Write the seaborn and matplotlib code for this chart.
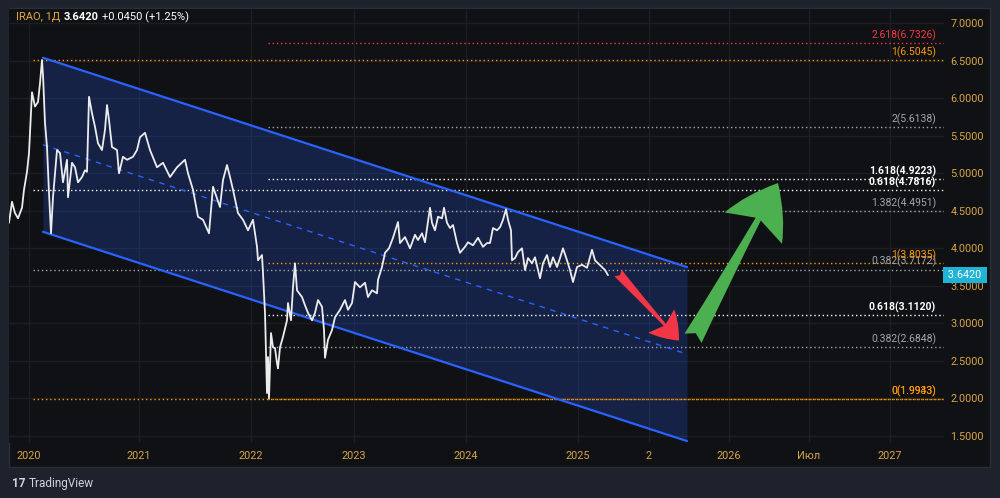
import numpy as np
import pandas as pd
import seaborn as sns
import matplotlib.pyplot as plt
from matplotlib.patches import Rectangle

# time axis is the chart's own bar-time index (2020 = 0)
TICK_T = [0, 110, 222, 325, 437, 549, 620, 700, 780, 861]
TICK_LABELS = ["2020", "2021", "2022", "2023", "2024", "2025", "2", "2026", "Июл", "2027"]

PRICE_T = [-20, -17, -14, -11, -7, -5, -2, 0, 3, 6, 9, 11, 13, 14, 16, 18, 20, 22, 24, 28,
           31, 34, 38, 39, 43, 46, 49, 53, 56, 58, 60, 63, 66, 69, 73, 76, 78, 80, 83, 88,
           90, 94, 98, 104, 108, 111, 116, 121, 128, 134, 141, 148, 156, 159, 164, 169, 174, 180, 184, 191,
           194, 198, 201, 204, 209, 214, 219, 224, 228, 229, 233, 234, 236, 238, 239, 240, 242, 244, 246, 248,
           249, 251, 254, 258, 259, 262, 264, 266, 268, 273, 276, 279, 283, 286, 289, 293, 295, 296, 299, 303,
           306, 311, 316, 319, 323, 326, 331, 336, 339, 343, 348, 349, 353, 356, 360, 364, 369, 371, 376, 381,
           386, 389, 393, 396, 401, 403, 406, 409, 413, 415, 418, 421, 424, 428, 431, 436, 439, 444, 449, 454,
           458, 461, 464, 468, 471, 474, 477, 479, 482, 483, 486, 489, 493, 496, 499, 503, 506, 511, 514, 518,
           521, 524, 528, 531, 534, 538, 541, 544, 548, 553, 558, 563, 566, 569, 573, 576, 579]
PRICE_V = [4.34, 4.62, 4.47, 4.40, 4.54, 4.78, 5.02, 5.27, 6.08, 5.89, 5.95, 6.20, 6.51, 6.31, 5.67, 5.35, 4.74, 4.20, 4.68, 5.31,
           5.27, 4.88, 5.18, 4.68, 5.14, 5.08, 4.88, 4.95, 5.04, 5.02, 6.02, 5.80, 5.62, 5.40, 5.31, 5.58, 5.91, 5.71, 5.35, 5.31,
           5.00, 5.22, 5.18, 5.22, 5.31, 5.48, 5.54, 5.31, 5.08, 5.14, 4.95, 5.08, 5.18, 5.00, 4.78, 4.42, 4.38, 4.20, 4.82, 4.55,
           4.91, 5.11, 4.95, 4.78, 4.47, 4.38, 4.24, 4.38, 4.02, 3.84, 3.91, 3.67, 3.14, 2.07, 2.55, 2.00, 2.87, 2.68, 2.67, 2.47,
           2.40, 2.68, 2.82, 3.04, 3.27, 3.04, 3.48, 3.80, 3.44, 3.35, 3.24, 3.14, 3.04, 3.14, 3.31, 3.22, 2.91, 2.54, 2.78, 2.91,
           3.08, 3.18, 3.31, 3.18, 3.27, 3.55, 3.48, 3.54, 3.35, 3.44, 3.40, 3.58, 3.75, 3.94, 4.00, 4.14, 4.35, 4.07, 4.15, 4.00,
           4.18, 4.11, 4.20, 4.08, 4.54, 4.34, 4.24, 4.42, 4.40, 4.54, 4.34, 4.27, 4.31, 4.07, 3.94, 4.02, 4.08, 4.04, 4.14, 4.02,
           4.07, 4.07, 4.27, 4.24, 4.28, 4.38, 4.52, 4.38, 4.24, 3.84, 3.87, 3.95, 4.00, 3.71, 3.87, 3.80, 3.88, 3.60, 3.80, 3.91,
           3.75, 3.88, 3.75, 3.87, 4.00, 3.84, 3.71, 3.55, 3.75, 3.78, 3.74, 3.98, 3.84, 3.80, 3.75, 3.71, 3.642]
LAST_PRICE = 3.6420

# descending channel (start / end)
CHAN_T = [14, 658]
CHAN_UPPER = [6.54, 3.75]
CHAN_LOWER = [4.22, 1.43]

# fib retracement (set A) and extension (set B)
FIB_A_START = 4
FIB_A_LEVELS = ["1", "0.618", "0.382", "0"]
FIB_A_PRICES = [6.5045, 4.7816, 3.7172, 1.9943]
FIB_B_START = 239
FIB_B_LEVELS = ["2.618", "2", "1.618", "1.382", "1", "0.618", "0.382", "0"]
FIB_B_PRICES = [6.7326, 5.6138, 4.9223, 4.4951, 3.8035, 3.1120, 2.6848, 1.9933]

# forecast arrows: (t0, p0) -> (t1, p1)
RED_ARROW = [(589, 3.67), (650, 2.77)]
GREEN_ARROW = [(664, 2.80), (749, 4.87)]

BG = "#101114"
OUTER = "#1e222d"
GOLD = "#d9a548"
BLUE = "#2962ff"
ORANGE = "#ff9800"
RED = "#f23645"
GRAY = "#a3a6af"


def level_style(level):
    if level in ("0", "1"):
        return ORANGE, "normal"
    if level == "2.618":
        return RED, "normal"
    if level in ("0.618", "1.618"):
        return "#ffffff", "bold"
    return GRAY, "normal"


sns.set_theme(style="dark", rc={"axes.facecolor": BG, "figure.facecolor": OUTER,
                                "grid.color": "#1c1e25", "grid.linewidth": 1.0})
plt.rcParams["font.family"] = ["Roboto", "DejaVu Sans"]

fig = plt.figure(figsize=(10, 4.98), dpi=100)
fig.patches.append(Rectangle((0.009, 0.062), 0.981, 0.922, transform=fig.transFigure,
                             facecolor=BG, edgecolor="#2a2e39", lw=1, zorder=-5))
ax = fig.add_axes([0.009, 0.1104, 0.935, 0.8715])
ax.set_zorder(2)
ax.set_facecolor(BG)

x_max = 915
ax.set_xlim(-20, x_max)
ax.set_ylim(1.404, 7.19)

# channel fill + lines
ct = np.array(CHAN_T)
ax.fill_between(ct, CHAN_LOWER, CHAN_UPPER, color=BLUE, alpha=0.21, lw=0, zorder=1)
chan = pd.DataFrame({"t": list(ct) * 2, "p": CHAN_UPPER + CHAN_LOWER,
                     "edge": ["upper", "upper", "lower", "lower"]})
sns.lineplot(data=chan, x="t", y="p", units="edge", estimator=None, color=BLUE,
             lw=1.6, ax=ax, zorder=3)
mid = (np.array(CHAN_UPPER) + np.array(CHAN_LOWER)) / 2
ax.plot(ct, mid, color=BLUE, lw=1, ls=(0, (4, 4)), zorder=3)

# fib levels
for start, levels, prices in [(FIB_A_START, FIB_A_LEVELS, FIB_A_PRICES),
                              (FIB_B_START, FIB_B_LEVELS, FIB_B_PRICES)]:
    for lev, p in zip(levels, prices):
        col, weight = level_style(lev)
        ax.hlines(p, start, x_max, colors=col, lw=1, linestyles=(0, (1, 2)), zorder=2)
        ax.annotate(f"{lev}({p:.4f})", (x_max - 8, p), xytext=(0, 1.5), textcoords="offset points",
                    ha="right", va="bottom", color=col, fontsize=7.5, fontweight=weight, zorder=4)

# price line
price = pd.DataFrame({"t": PRICE_T, "p": PRICE_V})
sns.lineplot(data=price, x="t", y="p", sort=False, estimator=None, color="#ececec", lw=1.3,
             ax=ax, zorder=5)

# arrows
for (s, e), col, hl, hw, tw in [(RED_ARROW, RED, 0.95, 1.25, 0.35),
                                (GREEN_ARROW, "#4caf50", 1.85, 2.35, 0.7)]:
    ax.annotate("", xy=e, xytext=s,
                arrowprops=dict(arrowstyle=f"fancy,head_length={hl},head_width={hw},tail_width={tw}",
                                mutation_scale=20, fc=col, ec=col, lw=0, shrinkA=0, shrinkB=0),
                zorder=6)

# axes styling
ax.set_xticks(TICK_T)
ax.set_xticklabels(TICK_LABELS)
ax.set_yticks(np.arange(1.5, 7.01, 0.5))
ax.yaxis.set_major_formatter(plt.FormatStrFormatter("%.4f"))
ax.yaxis.tick_right()
ax.tick_params(axis="y", length=0, pad=4.5, labelcolor=GOLD, labelsize=7.8)
ax.tick_params(axis="x", length=0, pad=5.5, labelcolor=GOLD, labelsize=7.8)
ax.set_xlabel("")
ax.set_ylabel("")
for sp in ax.spines.values():
    sp.set_visible(False)
ax.grid(True)

# last price tag
ax.annotate(f" {LAST_PRICE:.4f} ", (1.0, LAST_PRICE), xycoords=("axes fraction", "data"),
            xytext=(1, 0), textcoords="offset points", ha="left", va="center",
            color="white", fontsize=7.8, annotation_clip=False, zorder=10,
            bbox=dict(boxstyle="square,pad=0.25", fc="#1fb3d6", ec="none"))

# header
fig.text(0.016, 1 - 17 / 498, "IRAO, 1Д", color="#e0a94a", fontsize=8, va="center")
fig.text(0.064, 1 - 17 / 498, "3.6420", color="white", fontsize=8, fontweight="bold", va="center")
fig.text(0.102, 1 - 17 / 498, "+0.0450 (+1.25%)", color="white", fontsize=8, va="center")

# footer
fig.text(0.012, 1 - 483 / 498, "17", color="#d1d4dc", fontsize=8.5, fontweight="bold", va="center")
fig.text(0.029, 1 - 483 / 498, "TradingView", color="#d1d4dc", fontsize=8.5, va="center")

fig.savefig("out.png", dpi=100, facecolor=OUTER)
